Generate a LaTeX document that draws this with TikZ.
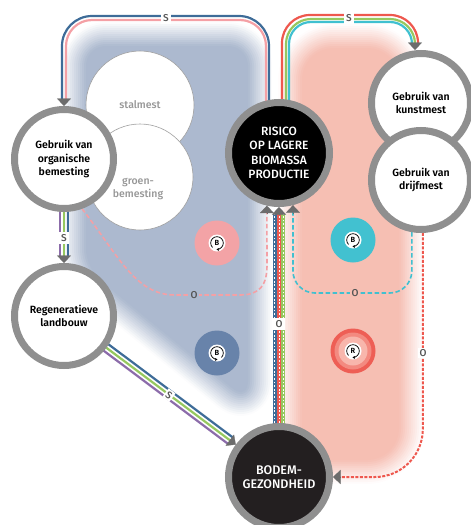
\documentclass[tikz,border=0pt]{standalone}
\usepackage{fontspec}
\setmainfont{Fira Sans}[BoldFont={Fira Sans SemiBold}]
\newfontfamily\medfont{Fira Sans Medium}
\usetikzlibrary{arrows.meta,calc}

\definecolor{bgblue}{RGB}{172,185,207}
\definecolor{bgpink}{RGB}{246,191,179}
\definecolor{ringgray}{RGB}{143,143,143}
\definecolor{tipgray}{RGB}{108,108,108}
\definecolor{ghostline}{RGB}{160,160,160}
\definecolor{txtgray}{RGB}{150,150,150}
\definecolor{labgray}{RGB}{85,85,85}
\definecolor{nearblack}{RGB}{35,31,32}
\definecolor{lnblue}{RGB}{62,108,152}
\definecolor{lnpink}{RGB}{244,160,165}
\definecolor{lnred}{RGB}{238,88,78}
\definecolor{lngreen}{RGB}{150,200,95}
\definecolor{lncyan}{RGB}{64,192,208}
\definecolor{lnpurple}{RGB}{140,108,170}
\definecolor{mkpink}{RGB}{243,163,166}
\definecolor{mkblue}{RGB}{104,131,170}
\definecolor{mkcyan}{RGB}{66,193,208}
\definecolor{rringa}{RGB}{238,94,85}
\definecolor{rringb}{RGB}{243,138,128}
\definecolor{rringc}{RGB}{248,182,172}

% small loop symbol (white disc, circular arrow, letter) centred on a marker disc
\newcommand\loopicon[4]{%
  \begin{scope}[shift={(#1)}]
    \fill[white] (0,0) circle[radius=8.5];
    \draw[looparrow] (#3:6.3) arc[start angle=#3, end angle=#4, radius=6.3];
    \node[looptext] (#1-txt) at (0,0) {#2};
  \end{scope}}

\begin{document}
\begin{tikzpicture}[x=1pt, y=-1pt,
  bignode/.style={circle, draw=ringgray, line width=7pt, fill=white, minimum size=99pt,
    inner sep=0pt, align=center, text=black, font=\bfseries\fontsize{10.5}{13.5}\selectfont},
  darknode/.style={bignode, minimum size=101pt, text=white,
    font=\medfont\fontsize{12}{14.3}\selectfont},
  ghost/.style={circle, draw=ghostline, line width=0.6pt, fill=white, inner sep=0pt},
  ghosttext/.style={text=txtgray, align=center, inner sep=0pt,
    font=\medfont\fontsize{10.5}{13}\selectfont},
  flow/.style={line width=2.2pt, shorten >=7pt},
  thickflow/.style={line width=3.6pt},
  whitedash/.style={draw=white, line width=1pt, dash pattern=on 1.8pt off 1.8pt},
  dashpink/.style={draw=lnpink, line width=1.6pt, dash pattern=on 4.5pt off 2.5pt, shorten >=7pt},
  dashcyan/.style={draw=lncyan, line width=1.6pt, dash pattern=on 4.5pt off 2.5pt, shorten >=7pt},
  dashred/.style={draw=lnred, line width=2pt, dash pattern=on 3pt off 1.5pt, shorten >=7pt},
  headmark/.style={draw=tipgray, line width=0.3pt, -{Triangle[width=14pt,length=7.5pt]}},
  slabel/.style={fill=white, inner sep=2pt, text=labgray, font=\medfont\fontsize{10}{10}\selectfont},
  olabel/.style={inner sep=1.2pt, text=labgray, font=\medfont\fontsize{10}{10}\selectfont},
  loopdisc/.style={circle, minimum size=45pt, inner sep=0pt},
  looparrow/.style={draw=black, line width=0.75pt, -{Stealth[length=2.6pt,width=3pt]}},
  looptext/.style={inner sep=0pt, font=\bfseries\fontsize{7.5}{8}\selectfont}
]
\useasboundingbox (0,0) rectangle (471,525);

% soft-edged background fields
\foreach \k in {12,11,...,1}{
  \pgfmathtruncatemacro\tint{100-100*(\k-0.5)/12}
  \draw[draw=bgblue!\tint!white, line width={4*\k}, line join=round, rounded corners=20]
    (86,46) -- (248,46) -- (248,401) -- (86,269) -- cycle;
  \draw[draw=bgpink!\tint!white, line width={4*\k}, line join=round, rounded corners=32]
    (302,48) -- (399,48) -- (399,460) -- (302,460) -- cycle;
}
\fill[bgblue, rounded corners=20] (86,46) -- (248,46) -- (248,401) -- (86,269) -- cycle;
\fill[bgpink, rounded corners=32] (302,48) -- (399,48) -- (399,460) -- (302,460) -- cycle;

% background circles for the kinds of organic fertiliser
\node[ghost, minimum size=108pt] (stal) at (140,105) {};
\node[ghosttext] (stallbl) at (stal) {stalmest};
\node[ghost, minimum size=106pt] (groen) at (140,177) {};
\node[ghosttext] (groenlbl) at (138,189) {groen-\\bemesting};

% main nodes (placed first so the connectors can refer to them)
\path
  (64,159)  coordinate (orgaC)
  (64,316)  coordinate (regenC)
  (279,153) coordinate (risicoC)
  (279,477) coordinate (bodemC)
  (421,103) coordinate (kunstC)
  (421,180) coordinate (drijfC);
\node[bignode, draw=none, fill=none] (orga) at (orgaC) {};
\node[bignode, draw=none, fill=none] (regen) at (regenC) {};
\node[darknode, draw=none, fill=none] (risico) at (risicoC) {};
\node[darknode, draw=none, fill=none] (bodem) at (bodemC) {};
\node[bignode, draw=none, fill=none] (kunst) at (kunstC) {};
\node[bignode, draw=none, fill=none] (drijf) at (drijfC) {};

% top-left loop: risico -> organische bemesting
\draw[flow, draw=lnblue, rounded corners=30]
  ([shift={(-10,0)}]risico.center) |- (62,16) -- ([shift={(-2,0)}]orga.north);
\draw[flow, draw=lnpink, rounded corners=26]
  ([shift={(-13,0)}]risico.center) |- (66,20) -- ([shift={(2,0)}]orga.north);

% top-right loop: risico -> kunstmest
\draw[flow, draw=lnred, rounded corners=28]
  ([shift={(3,0)}]risico.center) |- (418,15) -- ([shift={(-3,0)}]kunst.north);
\draw[flow, draw=lngreen, rounded corners=25]
  ([shift={(7,0)}]risico.center) |- (415,19) -- ([shift={(-6,0)}]kunst.north);
\draw[flow, draw=lncyan, rounded corners=22]
  ([shift={(10,0)}]risico.center) |- (412,22) -- ([shift={(-9,0)}]kunst.north);

% organische bemesting -> regeneratieve landbouw
\draw[flow, draw=lnpurple] ([shift={(-4,0)}]orga.center) -- ([shift={(-4,0)}]regen.north);
\draw[flow, draw=lngreen]  (orga.center) -- (regen.north);
\draw[flow, draw=lnblue]   ([shift={(4,0)}]orga.center) -- ([shift={(4,0)}]regen.north);

% regeneratieve landbouw -> bodemgezondheid
\draw[line width=2.2pt, draw=lnblue, shorten >=61pt]
  ([shift={(2.4,-3.2)}]regen.center) -- ([shift={(2.4,-3.2)}]bodem.center);
\draw[line width=2.2pt, draw=lngreen, shorten >=61pt]
  (regen.center) -- (bodem.center);
\draw[line width=2.2pt, draw=lnpurple, shorten >=61pt]
  ([shift={(-2.4,3.2)}]regen.center) -- ([shift={(-2.4,3.2)}]bodem.center);

% bodemgezondheid -> risico (dotted bundle)
\foreach \dx/\col in {-4.2/lnblue, 0/lnred, 4.2/lngreen}{
  \draw[thickflow, draw=\col, shorten >=61pt]
    ([shift={(\dx,0)}]bodem.center) -- ([shift={(\dx,0)}]risico.center);
  \draw[whitedash, shorten >=61pt]
    ([shift={(\dx,0)}]bodem.center) -- ([shift={(\dx,0)}]risico.center);
}

% balancing loop via organische bemesting
\draw[dashpink] (orga.-70) .. controls (118,255) and (135,295) .. (175,295)
  -- (240,295) .. controls (260,295) and (267,285) .. (267,265) -- (risico.-103);

% balancing loop via drijfmest
\draw[dashcyan, rounded corners=22] (drijf.-100) |- (293,293) -- (risico.-75);

% reinforcing loop via drijfmest
\draw[dashred, rounded corners=48] (drijf.-88) |- (bodem.east);

% visible node bodies
\node[bignode] (orgaN) at (orgaC) {Gebruik van\\organische\\bemesting};
\node[bignode] (regenN) at (regenC) {Regeneratieve\\landbouw};
\node[darknode, fill=black] (risicoN) at (risicoC) {RISICO\\OP LAGERE\\BIOMASSA\\PRODUCTIE};
\node[darknode, fill=nearblack, font=\medfont\fontsize{12.5}{14.5}\selectfont] (bodemN) at (bodemC) {BODEM-\\GEZONDHEID};
\node[bignode] (kunstN) at (kunstC) {Gebruik van\\kunstmest};
\node[bignode] (drijfN) at (drijfC) {Gebruik van\\drijfmest};

% arrowheads
\draw[headmark] ([shift={(0,-7.5)}]orga.north) -- (orga.north);
\draw[headmark] ([shift={(0,-7.5)}]regen.north) -- (regen.north);
\draw[headmark] ([shift={(-6,-7.5)}]kunst.north) -- ([shift={(-6,0)}]kunst.north);
\draw[headmark] ([shift={(0,7.5)}]risico.-103) -- (risico.-103);
\draw[headmark] ([shift={(0,7.5)}]risico.-75) -- (risico.-75);
\draw[headmark] ([shift={(0,7.5)}]risico.south) -- (risico.south);
\draw[headmark] ($(bodem.center)!61.5pt!(regen.center)$) -- ($(bodem.center)!54pt!(regen.center)$);
\draw[headmark] ([shift={(7.5,0)}]bodem.east) -- (bodem.east);

% polarity labels
\node[slabel] (s1) at (166,18) {S};
\node[slabel] (s2) at (349,18) {S};
\node[slabel] (s3) at (64,238) {S};
\node[slabel, rotate=-36.8, inner sep=1.5pt] (s4) at (169,395) {S};
\node[slabel, inner sep=2.5pt] (o1) at (279,324) {O};
\node[olabel, fill=bgblue] (o2) at (194,295) {O};
\node[olabel, fill=bgpink] (o3) at (355,293) {O};
\node[olabel, fill=white] (o4) at (423,353) {O};

% loop markers
\node[loopdisc, fill=mkpink] (bpink) at (217,243) {};
\loopicon{bpink}{B}{135}{455}
\node[loopdisc, fill=mkblue] (bblue) at (217,353) {};
\loopicon{bblue}{B}{405}{85}
\node[loopdisc, fill=mkcyan] (bcyan) at (353,240) {};
\loopicon{bcyan}{B}{135}{455}
\node[loopdisc, fill=rringa] (rloop) at (353,351) {};
\fill[rringb] (rloop) circle[radius=18.5];
\fill[rringc] (rloop) circle[radius=14.5];
\loopicon{rloop}{R}{135}{455}
\end{tikzpicture}
\end{document}
